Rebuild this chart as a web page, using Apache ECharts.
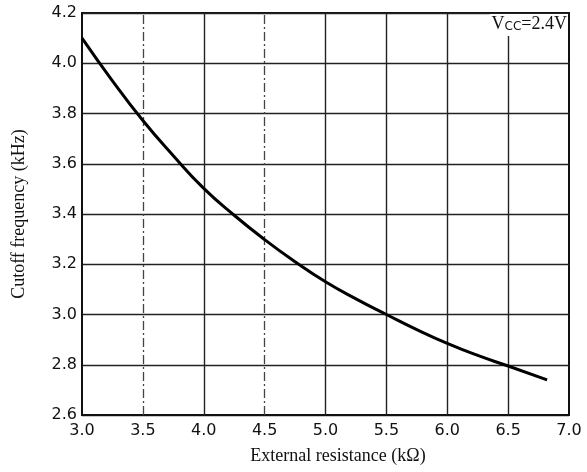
<!DOCTYPE html>
<html>
<head>
<meta charset="utf-8">
<script src="https://cdn.jsdelivr.net/npm/echarts@6/dist/echarts.min.js"></script>
<style>
  html, body { margin: 0; padding: 0; background: #fff; }
  #chart { width: 587px; height: 472px; }
</style>
</head>
<body>
<div id="chart"></div>
<script>
// external resistance (kOhm) vs cutoff frequency (kHz), Vcc = 2.4V
var resistance = [3.0, 3.25, 3.5, 3.75, 4.0, 4.25, 4.5, 4.75, 5.0, 5.25, 5.5, 5.75, 6.0, 6.25, 6.5, 6.82];
var frequency  = [4.10, 3.93, 3.772, 3.632, 3.502, 3.395, 3.298, 3.21, 3.13, 3.062, 3.00, 2.94, 2.885, 2.837, 2.795, 2.74];

var solidX = [4.0, 5.0, 5.5, 6.0, 6.5];
var dashedX = [3.5, 4.5];

var points = resistance.map(function (r, i) { return [r, frequency[i]]; });

var vLines = [];
solidX.forEach(function (v) {
  vLines.push({ xAxis: v, lineStyle: { color: "#222", width: 1.4, type: "solid" } });
});
dashedX.forEach(function (v) {
  vLines.push({ xAxis: v, lineStyle: { color: "#444", width: 1.3, type: [9, 3, 2, 3] } });
});

var tickFont = { fontFamily: "DejaVu Sans", fontSize: 16, color: "#111" };

var chart = echarts.init(document.getElementById("chart"));
chart.setOption({
  animation: false,
  backgroundColor: "#fff",
  title: {
    text: "{v|V}{s|CC}{v|=2.4V}",
    right: 19,
    top: 14,
    padding: [1, 1, 3, 2],
    backgroundColor: "#fff",
    textStyle: {
      fontWeight: "normal",
      rich: {
        v: { fontFamily: "Liberation Serif", fontSize: 18, fontWeight: "normal", color: "#111" },
        s: { fontFamily: "DejaVu Sans", fontSize: 12, fontWeight: "normal", color: "#111", padding: [6, 0, 0, 0] }
      }
    }
  },
  grid: {
    left: 82, right: 18, top: 13, bottom: 57,
    show: true, borderColor: "#111", borderWidth: 2
  },
  xAxis: {
    type: "value",
    min: 3.0, max: 7.0, interval: 0.5,
    name: "External resistance (k\u03A9)",
    nameLocation: "middle",
    nameGap: 32,
    nameTextStyle: { fontFamily: "Liberation Serif", fontSize: 18, color: "#111", padding: [0, 0, 0, 25] },
    axisLine: { show: true, lineStyle: { color: "#111", width: 2 } },
    axisTick: { show: false },
    splitLine: { show: false },
    axisLabel: Object.assign({ margin: 8, formatter: function (v) { return v.toFixed(1); } }, tickFont)
  },
  yAxis: {
    type: "value",
    min: 2.6, max: 4.2, interval: 0.2,
    name: "Cutoff frequency (kHz)",
    nameLocation: "middle",
    nameGap: 54,
    nameTextStyle: { fontFamily: "Liberation Serif", fontSize: 18, color: "#111" },
    axisLine: { show: true, lineStyle: { color: "#111", width: 2 } },
    axisTick: { show: false },
    splitLine: { show: true, lineStyle: { color: "#222", width: 1.4 } },
    axisLabel: Object.assign({ margin: 5, formatter: function (v) { return v.toFixed(1); } }, tickFont)
  },
  series: [
    {
      type: "line",
      data: points,
      smooth: 0.5,
      symbol: "none",
      z: 5,
      lineStyle: { color: "#000", width: 3 },
      markLine: {
        silent: true,
        symbol: "none",
        label: { show: false },
        data: vLines
      }
    }
  ]
});
</script>
</body>
</html>
